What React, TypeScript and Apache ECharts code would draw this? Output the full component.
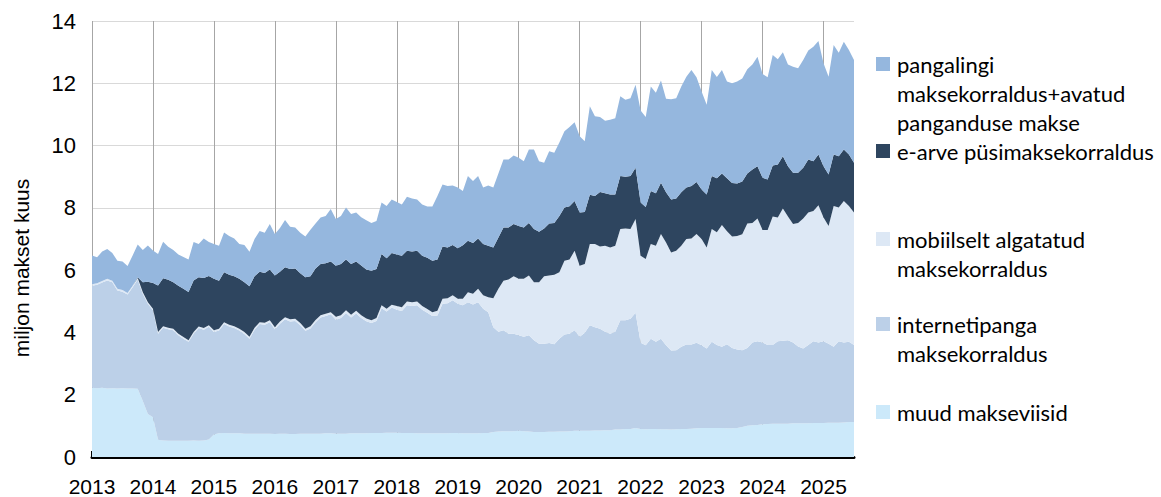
import React, { useEffect, useRef } from "react";
import * as echarts from "echarts";

// Year labels of the x axis (one tick per January)
const years = ["2013", "2014", "2015", "2016", "2017", "2018", "2019", "2020", "2021", "2022", "2023", "2024", "2025"];
const monthNums = ["01", "02", "03", "04", "05", "06", "07", "08", "09", "10", "11", "12"];

// million payments per month, Jan 2013 – Jul 2025
const muud = [
  2.22, 2.21, 2.22, 2.2, 2.21, 2.2, 2.21, 2.2, 2.2, 2.19, 1.8, 1.38,
  1.28, 0.55, 0.53, 0.52, 0.52, 0.52, 0.52, 0.52, 0.53, 0.52, 0.53, 0.56,
  0.72, 0.76, 0.77, 0.76, 0.76, 0.76, 0.75, 0.75, 0.75, 0.75, 0.75, 0.75,
  0.74, 0.75, 0.75, 0.74, 0.74, 0.75, 0.75, 0.75, 0.75, 0.75, 0.76, 0.76,
  0.75, 0.75, 0.75, 0.76, 0.76, 0.76, 0.76, 0.77, 0.77, 0.77, 0.78, 0.78,
  0.78, 0.77, 0.77, 0.77, 0.76, 0.76, 0.76, 0.76, 0.76, 0.76, 0.76, 0.77,
  0.77, 0.76, 0.76, 0.76, 0.76, 0.77, 0.77, 0.8, 0.82, 0.83, 0.83, 0.83,
  0.84, 0.83, 0.82, 0.8, 0.8, 0.8, 0.81, 0.81, 0.82, 0.82, 0.83, 0.84,
  0.84, 0.84, 0.84, 0.85, 0.85, 0.86, 0.86, 0.88, 0.88, 0.9, 0.9, 0.93,
  0.9, 0.89, 0.9, 0.9, 0.89, 0.89, 0.88, 0.89, 0.9, 0.9, 0.91, 0.92,
  0.93, 0.93, 0.93, 0.93, 0.93, 0.92, 0.92, 0.93, 0.96, 1.0, 1.02, 1.03,
  1.05, 1.06, 1.07, 1.07, 1.07, 1.07, 1.08, 1.08, 1.08, 1.08, 1.09, 1.09,
  1.09, 1.1, 1.1, 1.1, 1.11, 1.12, 1.12,
];

const internetipanga = [
  3.28, 3.32, 3.38, 3.47, 3.4, 3.15, 3.1, 3.02, 3.25, 3.51, 3.44, 3.54,
  3.43, 3.41, 3.62, 3.58, 3.55, 3.39, 3.28, 3.18, 3.43, 3.62, 3.56, 3.62,
  3.29, 3.3, 3.5, 3.43, 3.38, 3.3, 3.2, 3.05, 3.34, 3.52, 3.5, 3.58,
  3.36, 3.53, 3.67, 3.61, 3.63, 3.48, 3.3, 3.38, 3.58, 3.73, 3.77, 3.82,
  3.66, 3.71, 3.87, 3.72, 3.85, 3.7, 3.6, 3.53, 3.6, 4.01, 3.89, 4.02,
  3.95, 3.92, 4.1, 4.08, 4.11, 3.97, 3.87, 3.77, 3.78, 4.16, 4.18, 4.26,
  4.15, 4.11, 4.21, 4.14, 4.21, 3.99, 3.88, 3.37, 3.2, 3.24, 3.13, 3.13,
  3.07, 3.03, 3.09, 2.95, 2.84, 2.84, 2.85, 2.81, 2.98, 3.11, 3.13, 3.23,
  3.02, 3.15, 3.39, 3.32, 3.27, 3.16, 3.1, 3.14, 3.51, 3.49, 3.54, 3.7,
  2.77, 2.7, 2.9, 2.8, 2.91, 2.7, 2.54, 2.54, 2.64, 2.71, 2.7, 2.75,
  2.66, 2.55, 2.77, 2.67, 2.61, 2.7, 2.58, 2.52, 2.47, 2.5, 2.66, 2.69,
  2.63, 2.54, 2.53, 2.65, 2.66, 2.68, 2.6, 2.47, 2.4, 2.52, 2.63, 2.59,
  2.63, 2.54, 2.44, 2.62, 2.57, 2.58, 2.48,
];

const mobiilselt = [
  0.05, 0.05, 0.05, 0.05, 0.05, 0.05, 0.05, 0.05, 0.05, 0.05, 0.05, 0.05,
  0.05, 0.05, 0.05, 0.05, 0.05, 0.05, 0.05, 0.05, 0.05, 0.05, 0.05, 0.05,
  0.06, 0.06, 0.06, 0.06, 0.06, 0.06, 0.06, 0.06, 0.06, 0.06, 0.06, 0.06,
  0.07, 0.07, 0.07, 0.07, 0.07, 0.07, 0.07, 0.07, 0.07, 0.07, 0.07, 0.07,
  0.09, 0.09, 0.09, 0.09, 0.09, 0.09, 0.09, 0.09, 0.09, 0.09, 0.09, 0.09,
  0.12, 0.12, 0.12, 0.12, 0.12, 0.12, 0.12, 0.12, 0.16, 0.16, 0.16, 0.16,
  0.16, 0.21, 0.32, 0.34, 0.43, 0.43, 0.48, 0.93, 1.38, 1.59, 1.74, 1.84,
  1.81, 1.86, 1.92, 1.86, 1.97, 2.16, 2.17, 2.23, 2.13, 2.37, 2.38, 2.55,
  2.28, 2.21, 2.61, 2.67, 2.64, 2.76, 2.77, 2.76, 2.93, 2.95, 2.88, 3.01,
  2.79, 2.77, 3.04, 3.08, 3.36, 3.3, 3.15, 3.19, 3.24, 3.39, 3.41, 3.49,
  3.41, 3.25, 3.62, 3.62, 3.91, 3.63, 3.58, 3.65, 3.72, 4.0, 3.83, 3.94,
  3.61, 3.69, 4.12, 3.97, 4.25, 3.97, 3.8, 3.96, 4.18, 4.25, 4.18, 4.4,
  3.97, 3.78, 4.52, 4.29, 4.54, 4.36, 4.25,
];

const earve = [
  0, 0, 0, 0, 0, 0, 0, 0, 0, 0.02, 0.32, 0.66,
  0.83, 1.5, 1.54, 1.54, 1.49, 1.54, 1.55, 1.55, 1.66, 1.58, 1.61, 1.58,
  1.65, 1.54, 1.6, 1.6, 1.6, 1.6, 1.6, 1.62, 1.65, 1.62, 1.6, 1.63,
  1.66, 1.6, 1.6, 1.62, 1.61, 1.6, 1.65, 1.6, 1.65, 1.65, 1.62, 1.63,
  1.64, 1.65, 1.63, 1.63, 1.58, 1.6, 1.57, 1.59, 1.58, 1.65, 1.62, 1.66,
  1.65, 1.65, 1.63, 1.63, 1.63, 1.61, 1.65, 1.65, 1.64, 1.68, 1.63, 1.62,
  1.62, 1.72, 1.65, 1.63, 1.62, 1.65, 1.65, 1.63, 1.65, 1.71, 1.67, 1.68,
  1.7, 1.65, 1.68, 1.71, 1.62, 1.54, 1.67, 1.66, 1.81, 1.71, 1.71, 1.6,
  1.71, 1.67, 1.58, 1.54, 1.75, 1.69, 1.7, 1.65, 1.7, 1.66, 1.7, 1.65,
  1.71, 1.67, 1.7, 1.69, 1.65, 1.61, 1.7, 1.68, 1.72, 1.65, 1.68, 1.67,
  1.59, 1.7, 1.7, 1.73, 1.65, 1.7, 1.72, 1.68, 1.7, 1.6, 1.72, 1.68,
  1.68, 1.62, 1.64, 1.7, 1.68, 1.62, 1.65, 1.62, 1.63, 1.7, 1.6, 1.63,
  1.65, 1.65, 1.65, 1.65, 1.65, 1.65, 1.6,
];

const pangalingi = [
  0.92, 0.83, 0.95, 0.96, 0.89, 0.9, 0.92, 0.86, 0.97, 1.05, 1.04, 1.16,
  1.04, 1.01, 1.17, 1.06, 1.04, 1.0, 1.02, 1.04, 1.23, 1.07, 1.27, 1.09,
  1.12, 1.12, 1.28, 1.25, 1.22, 1.12, 1.2, 1.11, 1.2, 1.31, 1.29, 1.46,
  1.33, 1.4, 1.52, 1.35, 1.32, 1.3, 1.31, 1.5, 1.45, 1.49, 1.52, 1.68,
  1.5, 1.54, 1.67, 1.6, 1.57, 1.55, 1.58, 1.53, 1.54, 1.65, 1.68, 1.72,
  1.69, 1.65, 1.74, 1.7, 1.65, 1.65, 1.64, 1.74, 2.04, 1.99, 1.97, 1.91,
  1.95, 1.74, 2.08, 1.99, 2.0, 1.81, 1.94, 1.92, 2.05, 2.18, 2.18, 2.2,
  2.19, 2.13, 2.36, 2.55, 2.27, 2.11, 2.32, 2.26, 2.36, 2.45, 2.55, 2.53,
  2.45, 2.27, 2.84, 2.56, 2.41, 2.33, 2.4, 2.45, 2.56, 2.47, 2.5, 2.66,
  2.96, 2.89, 3.36, 3.23, 3.28, 3.0, 3.22, 3.22, 3.4, 3.56, 3.73, 3.36,
  3.15, 2.88, 3.41, 3.25, 3.33, 3.11, 3.2, 3.28, 3.3, 3.35, 3.37, 3.51,
  3.33, 3.28, 3.55, 3.38, 3.34, 3.26, 3.4, 3.35, 3.46, 3.5, 3.67, 3.65,
  3.3, 3.14, 3.52, 3.32, 3.46, 3.36, 3.3,
];

const yTicks = [0, 2, 4, 6, 8, 10, 12, 14];

const months = years
  .flatMap((y) => monthNums.map((m) => `${y}-${m}`))
  .slice(0, muud.length);

const COLORS = {
  muud: "#cce9fa",
  internet: "#bcd0e8",
  mobiil: "#dde8f5",
  earve: "#2e455f",
  panga: "#95b7de",
};

const seriesDefs = [
  { name: "muud makseviisid", data: muud, color: COLORS.muud },
  { name: "internetipanga maksekorraldus", data: internetipanga, color: COLORS.internet },
  { name: "mobiilselt algatatud maksekorraldus", data: mobiilselt, color: COLORS.mobiil },
  { name: "e-arve püsimaksekorraldus", data: earve, color: COLORS.earve },
  { name: "pangalingi maksekorraldus+avatud panganduse makse", data: pangalingi, color: COLORS.panga },
];

const legendItems = [
  { lines: ["pangalingi", "maksekorraldus+avatud", "panganduse makse"], color: COLORS.panga, y: 64 },
  { lines: ["e-arve püsimaksekorraldus"], color: COLORS.earve, y: 151 },
  { lines: ["mobiilselt algatatud", "maksekorraldus"], color: COLORS.mobiil, y: 239 },
  { lines: ["internetipanga", "maksekorraldus"], color: COLORS.internet, y: 324 },
  { lines: ["muud makseviisid"], color: COLORS.muud, y: 412 },
];

const AXIS_FONT = "Arial";
const LEGEND_FONT = "Lato";

export default function App() {
  const ref = useRef<HTMLDivElement>(null);

  useEffect(() => {
    if (!ref.current) return;
    const chart = echarts.init(ref.current, null, { renderer: "svg" });
    const yearTick = (i: number) => i % 12 === 0;

    const graphics: any[] = [];
    legendItems.forEach((it) => {
      graphics.push({
        type: "rect",
        shape: { x: 876, y: it.y - 7, width: 14, height: 14 },
        style: { fill: it.color },
      });
      it.lines.forEach((ln, k) => {
        graphics.push({
          type: "text",
          x: 897,
          y: it.y + k * 29,
          style: {
            text: ln,
            fill: "#000",
            font: `22px ${LEGEND_FONT}`,
            textAlign: "left",
            textVerticalAlign: "middle",
          },
        });
      });
    });
    graphics.push({
      type: "text",
      x: 21,
      y: 268,
      rotation: Math.PI / 2,
      style: {
        text: "miljon makset kuus",
        fill: "#000",
        font: `21px ${AXIS_FONT}`,
        textAlign: "center",
        textVerticalAlign: "middle",
      },
    });

    chart.setOption({
      animation: false,
      backgroundColor: "#fff",
      grid: { left: 92, right: 307, top: 21, bottom: 38, containLabel: false },
      xAxis: {
        type: "category",
        data: months,
        boundaryGap: false,
        axisLine: { show: true, lineStyle: { color: "#000", width: 3 } },
        axisTick: {
          show: true,
          interval: yearTick,
          inside: true,
          length: 6,
          lineStyle: { color: "#000", width: 2 },
        },
        axisLabel: {
          interval: yearTick,
          formatter: (v: string) => v.slice(0, 4),
          color: "#000",
          fontSize: 21,
          fontFamily: AXIS_FONT,
          margin: 19,
        },
        splitLine: {
          show: true,
          interval: yearTick,
          lineStyle: { color: "#a6a6a6", width: 1 },
        },
      },
      yAxis: {
        type: "value",
        min: yTicks[0],
        max: yTicks[yTicks.length - 1],
        interval: 2,
        axisLine: { show: false },
        axisTick: { show: false },
        axisLabel: {
          color: "#000",
          fontSize: 22,
          fontFamily: AXIS_FONT,
          margin: 16,
        },
        splitLine: { show: true, lineStyle: { color: "#d9d9d9", width: 1 } },
      },
      series: seriesDefs.map((s) => ({
        name: s.name,
        type: "line",
        stack: "total",
        data: s.data,
        symbol: "none",
        showSymbol: false,
        silent: true,
        lineStyle: { width: 0, color: s.color },
        itemStyle: { color: s.color },
        areaStyle: { color: s.color, opacity: 1 },
        emphasis: { disabled: true },
      })),
      graphic: graphics,
    });

    return () => chart.dispose();
  }, []);

  return (
    <div
      ref={ref}
      style={{ position: "absolute", left: 0, top: 0, width: 1161, height: 497 }}
    />
  );
}
